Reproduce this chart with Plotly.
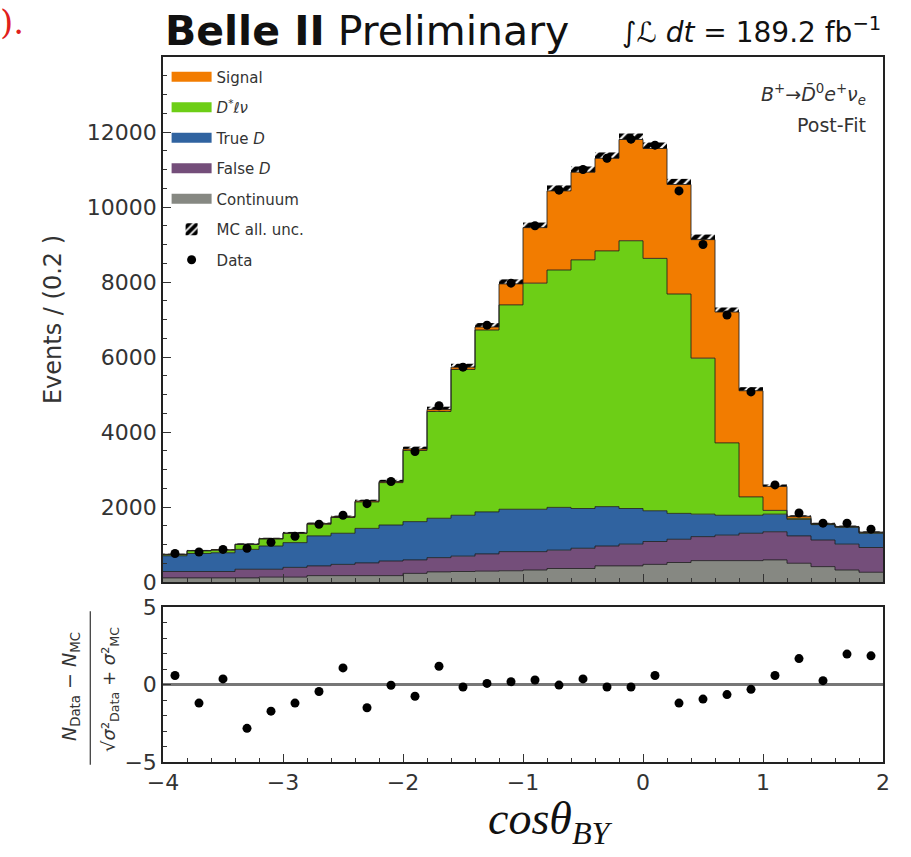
import plotly.graph_objects as go

# ---- data ----
bin_edges = [-4.0, -3.8, -3.6, -3.4, -3.2, -3.0, -2.8, -2.6, -2.4, -2.2, -2.0,
             -1.8, -1.6, -1.4, -1.2, -1.0, -0.8, -0.6, -0.4, -0.2, 0.0,
             0.2, 0.4, 0.6, 0.8, 1.0, 1.2, 1.4, 1.6, 1.8, 2.0]
bin_centers = [-3.9, -3.7, -3.5, -3.3, -3.1, -2.9, -2.7, -2.5, -2.3, -2.1,
               -1.9, -1.7, -1.5, -1.3, -1.1, -0.9, -0.7, -0.5, -0.3, -0.1,
               0.1, 0.3, 0.5, 0.7, 0.9, 1.1, 1.3, 1.5, 1.7, 1.9]

continuum = [110, 110, 110, 110, 130, 130, 170, 170, 170, 170, 230, 270, 280, 290, 300,
             320, 360, 360, 430, 430, 470, 520, 570, 570, 570, 590, 500, 410, 320, 260]
false_d = [170, 170, 170, 230, 210, 260, 260, 300, 340, 390, 360, 380, 410, 460, 510,
           490, 490, 540, 530, 580, 610, 620, 640, 680, 730, 750, 730, 710, 690, 660]
true_d = [420, 480, 500, 530, 620, 660, 800, 830, 920, 960, 1020, 1050, 1090, 1120, 1130,
          1130, 1140, 1060, 1050, 950, 820, 690, 600, 530, 480, 470, 440, 410, 450, 380]
dstar_lnu = [30, 70, 70, 130, 185, 245, 310, 420, 705, 1130, 1900, 2850, 3890, 4850, 5450,
             6030, 6330, 6630, 6820, 7140, 6730, 5850, 4160, 1930, 490, 100, 30, 15, 10, 15]
signal = [10, 10, 10, 10, 15, 15, 20, 20, 25, 30, 40, 50, 60, 80, 560,
          1480, 2110, 2340, 2470, 2700, 2930, 2920, 3160, 3490, 2830, 640, 50, 10, 10, 15]
mc_unc = [15, 15, 15, 20, 20, 25, 25, 30, 35, 45, 60, 75, 90, 105, 120,
          135, 145, 150, 155, 160, 160, 150, 135, 120, 95, 50, 30, 25, 25, 20]
data = [760, 800, 870, 900, 1060, 1220, 1540, 1780, 2090, 2680, 3480, 4700, 5730, 6850, 7970,
        9500, 10450, 11000, 11300, 11810, 11650, 10430, 9000, 7120, 5070, 2590, 1840, 1570, 1570, 1410]
pulls = [0.58, -1.2, 0.36, -2.83, -1.72, -1.2, -0.45, 1.07, -1.5, -0.05, -0.76, 1.18, -0.16, 0.07, 0.18,
         0.29, -0.04, 0.36, -0.16, -0.16, 0.58, -1.2, -0.94, -0.65, -0.31, 0.58, 1.67, 0.25, 1.96, 1.85]
y_ticks = [0, 2000, 4000, 6000, 8000, 10000, 12000]

components = [
    ("Continuum", continuum, "#868882", 5),
    ("False <i>D</i>", false_d, "#744E7A", 4),
    ("True <i>D</i>", true_d, "#3063A0", 3),
    ("<i>D</i><sup>*</sup><i>ℓν</i>", dstar_lnu, "#6DCE16", 2),
    ("Signal", signal, "#F27C00", 1),
]

fig = go.Figure()

cum = [0.0] * len(bin_centers)
first = True
for name, vals, color, rank in components:
    cum = [c + v for c, v in zip(cum, vals)]
    fig.add_trace(go.Scatter(
        x=bin_edges, y=cum + [cum[-1]], mode="lines", line_shape="hv",
        line=dict(color="rgba(30,30,30,0.85)", width=1),
        fill="tozeroy" if first else "tonexty", fillcolor=color,
        showlegend=False, xaxis="x", yaxis="y", hoverinfo="skip"))
    first = False
total = cum

# legend proxies (box-like swatches), added after the stack so fills are unaffected
for name, vals, color, rank in components:
    fig.add_trace(go.Scatter(
        x=[None], y=[None], mode="lines", line=dict(color=color, width=12),
        name=name, legendgroup=name, legendrank=rank, xaxis="x", yaxis="y"))

fig.add_trace(go.Bar(
    x=bin_centers, y=[2 * u for u in mc_unc], base=[t - u for t, u in zip(total, mc_unc)],
    width=0.2, marker=dict(color="rgba(0,0,0,0)", line=dict(width=0),
                           pattern=dict(shape="/", fgcolor="#000000", fgopacity=1,
                                        bgcolor="rgba(0,0,0,0)", size=7, solidity=0.7)),
    name="MC all. unc.", legendgroup="unc", legendrank=6, xaxis="x", yaxis="y"))

fig.add_trace(go.Scatter(
    x=bin_centers, y=data, mode="markers",
    marker=dict(color="black", size=9),
    error_y=dict(type="data", array=[v ** 0.5 for v in data], thickness=1.5, width=0, color="black"),
    name="Data", legendgroup="data", legendrank=7, xaxis="x", yaxis="y"))

fig.add_trace(go.Scatter(
    x=bin_centers, y=pulls, mode="markers", marker=dict(color="black", size=9),
    showlegend=False, xaxis="x2", yaxis="y2"))

tickfont = dict(family="DejaVu Sans", size=22, color="#333")
axis_common = dict(showline=True, linecolor="#222", linewidth=1.5, mirror=True,
                   ticks="inside", tickcolor="#333", ticklen=8, tickwidth=1,
                   showgrid=False, zeroline=False, tickfont=tickfont)

main_bottom = 180 / 705
ratio_top = 155 / 705

fig.update_layout(
    width=911, height=857,
    margin=dict(l=163, r=28, t=57, b=95),
    paper_bgcolor="white", plot_bgcolor="white",
    barmode="overlay",
    font=dict(family="DejaVu Sans", color="#333"),
    xaxis=dict(domain=[0, 1], anchor="y", range=[-4, 2], dtick=1, showticklabels=False,
               matches="x2", minor=dict(dtick=0.2, ticklen=4, ticks="inside", tickcolor="#333"),
               **axis_common),
    yaxis=dict(domain=[main_bottom, 1], anchor="x", range=[0, 14000], tickvals=y_ticks,
               tickformat="d",
               minor=dict(dtick=500, ticklen=4, ticks="inside", tickcolor="#333"),
               title=dict(text="Events / (0.2 )", font=dict(size=24, color="#333"), standoff=18),
               **axis_common),
    xaxis2=dict(domain=[0, 1], anchor="y2", range=[-4, 2], dtick=1,
                minor=dict(dtick=0.2, ticklen=4, ticks="inside", tickcolor="#333"),
                **axis_common),
    yaxis2=dict(domain=[0, ratio_top], anchor="x2", range=[-5, 5], tickvals=[-5, 0, 5],
                minor=dict(dtick=1, ticklen=4, ticks="inside", tickcolor="#333"),
                **axis_common),
    legend=dict(x=0.005, y=0.995, xanchor="left", yanchor="top", bgcolor="rgba(0,0,0,0)",
                font=dict(family="DejaVu Sans", size=15, color="#333"),
                tracegroupgap=8, itemwidth=40),
    showlegend=True,
)

fig.add_shape(type="line", xref="x2 domain", yref="y2", x0=0, x1=1, y0=0, y1=0,
              line=dict(color="#777", width=3), layer="below")

# fraction bar for the pull axis title
fig.add_shape(type="line", xref="paper", yref="paper", x0=-0.101, x1=-0.101,
              y0=-0.004, y1=0.214, line=dict(color="#333", width=1.2))

ann = [
    dict(text="<b>Belle II</b> Preliminary", x=0.0, y=(762 - 31) / 705, xanchor="left",
         yanchor="middle", font=dict(family="DejaVu Sans", size=41, color="#111")),
    dict(text="∫<i>ℒ dt</i> = 189.2 fb<sup>−1</sup>", x=1.0, y=(762 - 31) / 705, xanchor="right",
         yanchor="middle", font=dict(family="DejaVu Sans", size=28, color="#111")),
    dict(text="<i>B</i><sup>+</sup>→<i>D̄</i><sup>0</sup><i>e</i><sup>+</sup><i>ν</i><sub><i>e</i></sub>",
         x=0.979, y=(762 - 95) / 705, xanchor="right", yanchor="middle",
         font=dict(family="DejaVu Sans", size=19, color="#333")),
    dict(text="Post-Fit", x=0.979, y=(762 - 125) / 705, xanchor="right", yanchor="middle",
         font=dict(family="DejaVu Sans", size=19, color="#333")),
    dict(text="<i>cosθ</i><sub><i>BY</i></sub>", x=(550 - 163) / 720, y=(762 - 822) / 705,
         xanchor="center", yanchor="middle",
         font=dict(family="Liberation Serif", size=46, color="#111")),
    dict(text="<i>N</i><sub>Data</sub> − <i>N</i><sub>MC</sub>", x=(70 - 163) / 720,
         y=(762 - 686) / 705, xanchor="center", yanchor="middle", textangle=-90,
         font=dict(family="DejaVu Sans", size=19, color="#333")),
    dict(text="√<i>σ</i>²<sub>Data</sub> + <i>σ</i>²<sub>MC</sub>", x=(110 - 163) / 720,
         y=(762 - 690) / 705, xanchor="center", yanchor="middle", textangle=-90,
         font=dict(family="DejaVu Sans", size=18, color="#333")),
    dict(text=").", x=(12 - 163) / 720, y=(762 - 22) / 705, xanchor="center", yanchor="middle",
         font=dict(family="DejaVu Serif", size=34, color="#e0201b")),
]
for a in ann:
    a.update(xref="paper", yref="paper", showarrow=False)
    fig.add_annotation(**a)

fig.write_html("out.html")
